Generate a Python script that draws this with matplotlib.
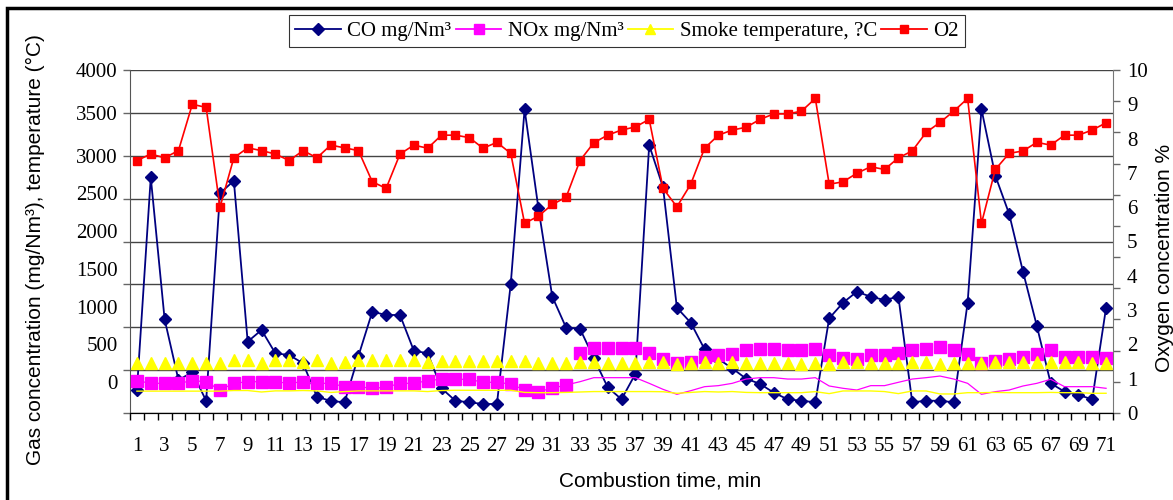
import matplotlib
matplotlib.use("Agg")
import matplotlib.pyplot as plt
from matplotlib.lines import Line2D
from matplotlib.patches import Rectangle
import numpy as np

minutes = list(range(1, 72))

co = [268, 2748, 1093, 385, 475, 143, 2562, 2709, 832, 968,
      696, 676, 579, 190, 140, 125, 665, 1181, 1143, 1143,
      727, 696, 288, 143, 125, 105, 105, 1504, 3542, 2387,
      1357, 995, 983, 641, 300, 160, 455, 3125, 2632, 1228,
      1053, 743, 630, 521, 400, 340, 237, 160, 143, 125,
      1104, 1286, 1415, 1356, 1318, 1356, 125, 143, 143, 125,
      1286, 3542, 2768, 2321, 1648, 1015, 346, 249, 210, 160, 1228]

# markers and thin line of NOx / smoke do not sit on each other in the source
nox = [377, 346, 346, 346, 377, 365, 268, 346, 365, 365,
       365, 346, 365, 346, 346, 307, 307, 288, 300, 346,
       346, 377, 395, 393, 393, 358, 358, 338, 268, 249,
       288, 327, 703, 755, 755, 755, 755, 703, 626, 580,
       598, 657, 676, 688, 735, 746, 746, 735, 735, 746,
       676, 638, 626, 676, 676, 703, 735, 746, 766, 735,
       688, 580, 610, 626, 657, 688, 735, 657, 657, 657, 638]
nox_line = [377, 346, 346, 346, 377, 365, 268, 346, 365, 365,
            365, 346, 365, 346, 346, 307, 307, 288, 300, 346,
            346, 377, 395, 393, 393, 358, 358, 338, 268, 249,
            288, 327, 365, 412, 412, 412, 412, 346, 276, 218,
            260, 307, 319, 346, 396, 412, 412, 396, 396, 412,
            315, 288, 268, 319, 319, 358, 396, 412, 431, 396,
            346, 218, 249, 268, 315, 346, 393, 307, 307, 307, 288]

smoke = [587, 587, 587, 587, 587, 587, 587, 618, 618, 587,
         618, 618, 598, 618, 579, 598, 618, 618, 618, 618,
         618, 598, 605, 610, 610, 610, 610, 610, 610, 587,
         587, 587, 598, 598, 587, 587, 587, 598, 598, 571,
         587, 598, 587, 598, 579, 583, 587, 587, 571, 587,
         571, 598, 598, 587, 587, 579, 598, 598, 571, 579,
         587, 579, 598, 598, 598, 598, 598, 590, 590, 579, 579]
smoke_line = [255, 255, 255, 255, 255, 255, 255, 262, 262, 245,
              258, 258, 262, 258, 240, 250, 258, 258, 258, 258,
              258, 250, 262, 265, 265, 265, 265, 265, 240, 237,
              237, 240, 245, 250, 250, 250, 250, 250, 248, 230,
              240, 250, 245, 250, 240, 237, 237, 237, 237, 249,
              226, 257, 257, 257, 250, 226, 257, 257, 222, 222,
              237, 237, 240, 237, 237, 237, 240, 237, 237, 230, 230]

o2 = [7.36, 7.55, 7.44, 7.65, 9.00, 8.91, 6.00, 7.44, 7.73, 7.65,
      7.55, 7.36, 7.65, 7.44, 7.81, 7.73, 7.65, 6.74, 6.55, 7.55,
      7.81, 7.72, 8.10, 8.10, 8.03, 7.72, 7.89, 7.57, 5.53, 5.74,
      6.08, 6.29, 7.36, 7.88, 8.10, 8.25, 8.34, 8.56, 6.55, 6.01,
      6.67, 7.72, 8.10, 8.25, 8.33, 8.56, 8.72, 8.72, 8.80, 9.17,
      6.67, 6.74, 6.99, 7.18, 7.10, 7.44, 7.64, 8.18, 8.47, 8.80,
      9.17, 5.53, 7.10, 7.57, 7.64, 7.89, 7.81, 8.10, 8.10, 8.25, 8.46]

left_labels = ["4000", "3500", "3000", "2500", "2000", "1500", "1000", "500", "0"]
right_labels = ["0", "1", "2", "3", "4", "5", "6", "7", "8", "9", "10"]
series_names = ["CO mg/Nm³", "NOx mg/Nm³", "Smoke temperature, ?C", "O2"]

serif = ["Liberation Serif", "DejaVu Serif"]
sans = ["Liberation Sans", "DejaVu Sans"]

fig = plt.figure(figsize=(11.73, 5.0), dpi=100)
W, H = 1173.0, 500.0
ax = fig.add_axes([130 / W, 1 - 413 / H, (1113 - 130) / W, (413 - 70) / H])
ax2 = ax.twinx()

x = np.array(minutes)
ax.plot(x, co, color="#000080", lw=1.3, marker="D", ms=6.5, zorder=3)
ax.plot(x, nox_line, color="#FF00FF", lw=0.9, zorder=3)
ax.plot(x, nox, ls="none", marker="s", ms=8, color="#FF00FF", zorder=4)
ax.plot(x, smoke_line, color="#FFFF00", lw=1.0, zorder=4)
ax.plot(x, smoke, ls="none", marker="^", ms=8, color="#FFFF00", zorder=5)
ax2.plot(x, o2, color="#FF0000", lw=1.2, marker="s", ms=6)

ax.set_xlim(0.5, 71.5)
ax.set_ylim(0, 4000)
ax2.set_ylim(0, 10)

# keep minor ticks even where they fall on a major one
ax.yaxis.remove_overlapping_locs = False
ax2.yaxis.remove_overlapping_locs = False

# grid + tick marks every 500, labels drift off the grid like in the source
ax.set_yticks(np.arange(0, 4001, 500), minor=True)
lab_pos = [4000, 3500, 3000] + [3000 - 440 * k for k in range(1, 7)]
ax.set_yticks(lab_pos)
ax.set_yticklabels(left_labels, family=serif, fontsize=15)
ax.tick_params(axis="y", which="major", length=0, pad=9)
ax.tick_params(axis="y", which="minor", length=5, width=1, direction="out", color="#666666")
ax.grid(True, axis="y", which="minor", color="#444444", lw=1.0)
ax.grid(False, axis="y", which="major")
ax.set_axisbelow(True)

ax.set_xticks(np.arange(1, 72, 2))
ax.set_xticklabels([str(m) for m in range(1, 72, 2)], family=serif, fontsize=15)
ax.set_xticks(np.arange(0.5, 72, 1), minor=True)
ax.tick_params(axis="x", which="major", length=0, pad=17)
ax.tick_params(axis="x", which="minor", length=5, width=1, direction="out")

ax2.set_yticks(np.arange(0, 11))
ax2.set_yticklabels(right_labels, family=serif, fontsize=15)
ax2.set_yticks(np.linspace(0, 10, 12), minor=True)
ax2.tick_params(axis="y", which="major", length=0, pad=10)
ax2.tick_params(axis="y", which="minor", length=5, width=1, direction="out", color="#666666")

ax.spines["top"].set_visible(False)
ax2.spines["top"].set_visible(False)
ax2.spines["left"].set_visible(False)
ax.spines["left"].set_color("#555555")
ax2.spines["right"].set_color("#777777")
ax.spines["right"].set_visible(False)
ax.spines["bottom"].set_color("black")

fig.text(35 / W, 0.5, "Gas concentration (mg/Nm³), temperature (°C)",
         rotation=90, ha="center", va="center", family=sans, fontsize=15)
fig.text(1165 / W, 1 - 258 / H, "Oxygen concentration %",
         rotation=90, ha="center", va="center", family=sans, fontsize=15)
fig.text(660 / W, 1 - 481 / H, "Combustion time, min",
         ha="center", va="center", family=sans, fontsize=15)

handles = [
    Line2D([], [], color="#000080", lw=1.3, marker="D", ms=6),
    Line2D([], [], color="#FF00FF", lw=1.3, marker="s", ms=7),
    Line2D([], [], color="#FFFF00", lw=1.3, marker="^", ms=7),
    Line2D([], [], color="#FF0000", lw=1.3, marker="s", ms=6),
]
leg = fig.legend(handles, series_names, ncol=4, loc="center",
                 bbox_to_anchor=(627 / W, 1 - 31 / H), frameon=True, fancybox=False,
                 edgecolor="black", prop={"family": serif, "size": 15},
                 handlelength=2.2, handletextpad=0.3, columnspacing=0.2,
                 borderpad=0.3, borderaxespad=0)
leg.get_frame().set_linewidth(0.8)

# outer chart frame, only top and left edges are inside the crop
fig.add_artist(Rectangle((7 / W, -0.2), 2.0, 1.2 - 8 / H, transform=fig.transFigure,
                         fill=False, lw=2.5, edgecolor="black", clip_on=False))

fig.savefig("out.png", dpi=100)
